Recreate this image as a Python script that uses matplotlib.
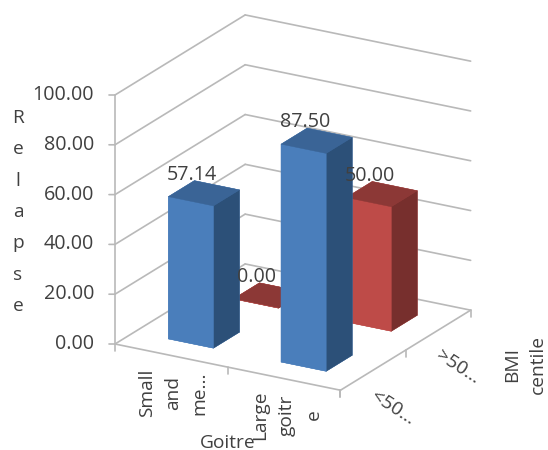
import numpy as np
import matplotlib
matplotlib.use("Agg")
import matplotlib.pyplot as plt
from matplotlib.transforms import offset_copy
from mpl_toolkits.mplot3d import proj3d

# Relapse rate by goitre size and BMI centile
goitre_labels = ["Small\nand\nme...", "Large\ngoitr\ne"]
bmi_labels = ["<50...", ">50..."]
relapse_below = [57.14, 87.50]
relapse_above = [0.00, 50.00]
relapse_ticks = [0, 20, 40, 60, 80, 100]

BLUE = ("#4A7EBB", "#3A6496", "#2C5078")
RED = ("#BE4B48", "#8C3836", "#772F2D")
GRID = "#B9B9B9"
TEXT = "#404040"
FONT = "Open Sans"
FS_NUM = 14.2
FS_WORD = 13.8

W, H = 548, 450
fig = plt.figure(figsize=(W / 100, H / 100), dpi=100)
side = 450
ax = fig.add_axes([0, 0, side / W, side / H], projection="3d", proj_type="ortho")
ax.set_axis_off()
ax.computed_zorder = False
ax.view_init(elev=20.8, azim=-60)
ax.set_xlim(0, 2, view_margin=0)
ax.set_ylim(0, 2, view_margin=0)
ax.set_zlim(0, 100, view_margin=0)

# The walls and axes are drawn by hand below, so the built-in ones stay hidden
for axis in (ax.xaxis, ax.yaxis, ax.zaxis):
    axis.set_visible(False)
    axis.label.set_visible(False)
    axis.offsetText.set_visible(False)
for title in (ax.title, ax._left_title, ax._right_title):
    title.set_visible(False)

aspect = (260, 260, 266)


def to_px(x, y, z):
    X, Y, _ = proj3d.proj_transform(x, y, z, ax.get_proj())
    return ax.transData.transform((X, Y))


# Scale the box so the value axis is 249 px tall, then put its foot in place
ax.set_box_aspect(aspect, zoom=1)
height = to_px(0, 0, 100)[1] - to_px(0, 0, 0)[1]
ax.set_box_aspect(aspect, zoom=249 / height)
foot = to_px(0, 0, 0)
ax.set_position([(115 - foot[0]) / W, ((H - 344) - foot[1]) / H, side / W, side / H])


def line(xs, ys, zs, lw=1.2):
    ax.plot(xs, ys, zs, color=GRID, lw=lw, solid_capstyle="round", zorder=1)


# Gridlines along the side wall and the back wall
for v in relapse_ticks:
    line([0, 0], [0, 2], [v, v])
    line([0, 2], [2, 2], [v, v])
    line([-0.04, 0], [-0.023, 0], [v, v])

# Value axis and floor edges with their ticks
line([0, 0], [0, 0], [0, 100])
line([0, 2], [0, 0], [0, 0])
line([2, 2], [0, 2], [0, 0])
for i in range(3):
    line([i, i], [0, 0], [0, -2.8])
    line([2, 2], [i, i], [0, -2.8])


def bar(i, j, value, palette, z):
    front, top, right = palette
    faces = [front, top, front, front, front, right]
    ax.bar3d(i + 0.3, j + 0.3, 0, 0.4, 0.4, value, color=faces, edgecolor=faces,
             linewidth=0.3, shade=False, zorder=z)


# Painted from back to front
for i, v in enumerate(relapse_above):
    bar(i, 1, v, RED, 2 + i)
for i, v in enumerate(relapse_below):
    bar(i, 0, v, BLUE, 4 + i)

num = dict(family=FONT, fontsize=FS_NUM, color=TEXT)
word = dict(family=FONT, fontsize=FS_WORD, color=TEXT)

# Value labels above each bar
label_shift = offset_copy(ax.transData, fig=fig, x=-12, y=18.5, units="dots")
for j, series in enumerate((relapse_below, relapse_above)):
    for i, v in enumerate(series):
        ax.text(i + 0.5, j + 0.5, v, f"{v:.2f}", transform=label_shift,
                ha="center", va="center", zorder=6, **num)

# Value axis labels
tick_shift = offset_copy(ax.transData, fig=fig, x=-21, y=0, units="dots")
for v in relapse_ticks:
    ax.text(0, 0, v, f"{v:.2f}", transform=tick_shift, ha="right", va="center",
            zorder=6, **num)


def px_text(x, y, s, **kw):
    fig.text(x / W, 1 - y / H, s, ha="center", va="center", **word, **kw)


# Category and series labels
px_text(173, 393, goitre_labels[0], rotation=90, linespacing=1.6, multialignment="center")
px_text(287, 415, goitre_labels[1], rotation=90, linespacing=1.6, multialignment="center")
px_text(393, 408, bmi_labels[0], rotation=-33)
px_text(458, 367, bmi_labels[1], rotation=-33)

# Axis titles
px_text(18, 212, "\n".join("Relapse"), linespacing=1.96)
px_text(228, 443, "Goitre")
px_text(525, 365, "BMI\ncentile", rotation=90, linespacing=1.6, multialignment="center")

fig.savefig("out.png", dpi=100, facecolor="white")
